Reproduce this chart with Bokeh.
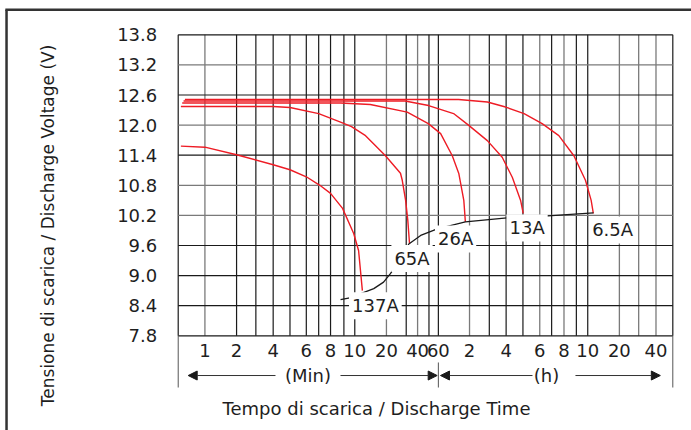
import numpy as np
from bokeh.plotting import figure
from bokeh.models import (Range1d, FixedTicker, Label, Arrow, NormalHead, PrintfTickFormatter)
from bokeh.embed import file_html
from bokeh.resources import INLINE

# ---- time axis (minutes) : non-uniform printed grid ----
GRID_MIN = [0, 1, 2, 3, 4, 5, 6, 7, 8, 9, 10, 20, 30, 40, 50, 60, 120, 180, 240, 300,
            360, 420, 480, 540, 600, 1200, 1800, 2400, 3000]
GRID_POS = [0, 54, 118, 157, 192, 226, 259, 284, 308, 335, 357, 421, 461, 484, 507, 526,
            589, 629, 663, 697, 731, 755, 780, 805, 828, 892, 931, 966, 1000]
TICK_MIN = [1, 2, 4, 6, 8, 10, 20, 40, 60, 120, 240, 360, 480, 600, 1200, 2400]
TICK_LABELS = ["1", "2", "4", "6", "8", "10", "20", "40", "60", "2", "4", "6", "8", "10", "20", "40"]
GRAY_V_MIN = [1, 20, 40, 120, 360, 480, 1200, 1800, 2400]
Y_TICKS = [7.8, 8.4, 9.0, 9.6, 10.2, 10.8, 11.4, 12.0, 12.6, 13.2, 13.8]
GRAY_H = [13.2, 12.0, 10.8, 10.2]

# ---- discharge curves (time in minutes, voltage in V) ----
t_137 = [0.1, 1, 2, 4, 5, 6, 7.1, 8, 8.9, 9.9, 11.2, 12.4]
v_137 = [11.58, 11.56, 11.41, 11.21, 11.11, 10.97, 10.80, 10.64, 10.34, 9.84, 9.50, 8.70]
t_65 = [0.1, 4, 5, 7, 8.75, 9.7, 13.4, 19.7, 27.1, 28, 29.7, 31.4, 32.9]
v_65 = [12.37, 12.37, 12.35, 12.23, 12.06, 11.97, 11.79, 11.39, 11.04, 10.90, 10.50, 10.10, 9.64]
t_26 = [0.15, 8.75, 14.9, 30.9, 49.4, 64.4, 86.8, 99.5, 109, 112]
v_26 = [12.44, 12.44, 12.41, 12.26, 12.03, 11.83, 11.39, 11.03, 10.50, 10.07]
t_13 = [0.2, 29.4, 49.7, 89.3, 118, 174, 226, 262, 292, 301]
v_13 = [12.48, 12.48, 12.39, 12.23, 12.00, 11.69, 11.36, 10.96, 10.49, 10.24]
t_6_5 = [0.25, 99, 174, 238, 304, 372, 455, 528, 588, 665, 706]
v_6_5 = [12.51, 12.51, 12.46, 12.36, 12.23, 12.03, 11.79, 11.39, 10.90, 10.50, 10.24]
# final voltage curve
t_end = [8.75, 9.9, 12.3, 16.0, 19.1, 22.0, 24.6, 32.3, 42.7, 58.9, 112, 243, 363, 709]
v_end = [8.52, 8.57, 8.65, 8.74, 8.87, 9.04, 9.18, 9.63, 9.80, 9.93, 10.07, 10.15, 10.18, 10.25]

CURVE_LABELS = ["137A", "65A", "26A", "13A", "6.5A"]
LABEL_T = [16.5, 35.1, 93.2, 314.8, 1072]
LABEL_V = [8.40, 9.34, 9.73, 9.95, 9.91]


def pos(t):
    return np.interp(t, GRID_MIN, GRID_POS)


FONT = "DejaVu Sans"
TXT = "#1e1e1e"
RED = "#ee1c25"
DARK = "#1a1a1a"
GRAY = "#7a7a7a"
Y0, Y1 = Y_TICKS[0], Y_TICKS[-1]

p = figure(width=691, height=430,
           x_range=Range1d(-359.3, 1037.8), y_range=Range1d(5.912, 14.484),
           output_backend="svg", toolbar_location=None,
           min_border=0, background_fill_color="white", border_fill_color="white",
           outline_line_color=None)
p.xgrid.visible = False
p.ygrid.visible = False

# axes drawn at the plot-area edges
tick_pos = [int(round(float(pos(t)))) for t in TICK_MIN]
p.xaxis.ticker = FixedTicker(ticks=tick_pos)
p.xaxis.major_label_overrides = {k: lab for k, lab in zip(tick_pos, TICK_LABELS)}
p.xaxis.fixed_location = Y0
p.yaxis.ticker = FixedTicker(ticks=Y_TICKS)
p.yaxis.formatter = PrintfTickFormatter(format="%.1f")
p.yaxis.fixed_location = 0
for ax in (p.xaxis, p.yaxis):
    ax.major_tick_line_color = None
    ax.minor_tick_line_color = None
    ax.axis_line_color = None
    ax.major_label_text_font = FONT
    ax.major_label_text_font_size = "18px"
    ax.major_label_text_color = TXT
p.xaxis.major_label_standoff = 2
p.yaxis.major_label_standoff = 15

# printed grid
gray_x = [int(round(float(pos(t)))) for t in GRAY_V_MIN]
dark_x = [g for g in GRID_POS if g not in gray_x]
dark_y = [y for y in Y_TICKS if y not in GRAY_H]
p.segment(x0=gray_x, y0=Y0, x1=gray_x, y1=Y1, line_color=GRAY, line_width=1.3)
p.segment(x0=dark_x, y0=Y0, x1=dark_x, y1=Y1, line_color=DARK, line_width=1.2)
p.segment(x0=GRID_POS[0], y0=GRAY_H, x1=GRID_POS[-1], y1=GRAY_H, line_color=GRAY, line_width=1.3)
p.segment(x0=GRID_POS[0], y0=dark_y, x1=GRID_POS[-1], y1=dark_y, line_color=DARK, line_width=1.2)

# curves
for t, v in ((t_137, v_137), (t_65, v_65), (t_26, v_26), (t_13, v_13), (t_6_5, v_6_5)):
    p.line(x=pos(t), y=v, line_color=RED, line_width=1.4)
p.line(x=pos(t_end), y=v_end, line_color=DARK, line_width=1.3)

for lab, t, v in zip(CURVE_LABELS, LABEL_T, LABEL_V):
    p.add_layout(Label(x=float(pos(t)), y=v, text=lab, text_align="center", text_baseline="middle",
                       text_font=FONT, text_font_size="18px", text_color=TXT,
                       background_fill_color="white", padding=3))

# under-axis decoration: arrows, (Min), (h)
YA = 7.008
head = dict(size=9, fill_color=DARK, line_color=DARK)
for xs, xe in ((196.7, 20.2), (328.1, 523.6), (716.3, 530.3), (803.2, 974.8)):
    p.add_layout(Arrow(x_start=xs, y_start=YA, x_end=xe, y_end=YA, end=NormalHead(**head),
                       line_color="#333333", line_width=1))
for xx, y0 in ((GRID_POS[0], Y0), (526, 7.268), (GRID_POS[-1], Y0)):
    p.add_layout(Arrow(x_start=xx, y_start=y0, x_end=xx, y_end=6.769, end=None,
                       line_color="#555555", line_width=1))
p.add_layout(Label(x=262.4, y=YA, text="(Min)", text_align="center", text_baseline="middle",
                   text_font=FONT, text_font_size="18px", text_color=TXT))
p.add_layout(Label(x=744.6, y=YA, text="(h)", text_align="center", text_baseline="middle",
                   text_font=FONT, text_font_size="18px", text_color=TXT))

# titles
p.add_layout(Label(x=400.9, y=6.351, text="Tempo di scarica / Discharge Time", text_align="center",
                   text_baseline="middle", text_font=FONT, text_font_size="18px", text_color=TXT))
p.add_layout(Label(x=-264.2, y=10.0, text="Tensione di scarica / Discharge Voltage (V)",
                   angle=np.pi / 2, text_align="center", text_baseline="middle",
                   text_font=FONT, text_font_size="17px", text_color=TXT))

# outer frame of the picture (left and top edges only; the rest is cut off)
p.add_layout(Arrow(x_start=-347.1, y_start=4.0, x_end=-347.1, y_end=14.301, end=None,
                   line_color="#333333", line_width=2.5))
p.add_layout(Arrow(x_start=-349.5, y_start=14.301, x_end=1200, y_end=14.301, end=None,
                   line_color="#333333", line_width=2.5))

open("out.html", "w").write(file_html(p, INLINE))
